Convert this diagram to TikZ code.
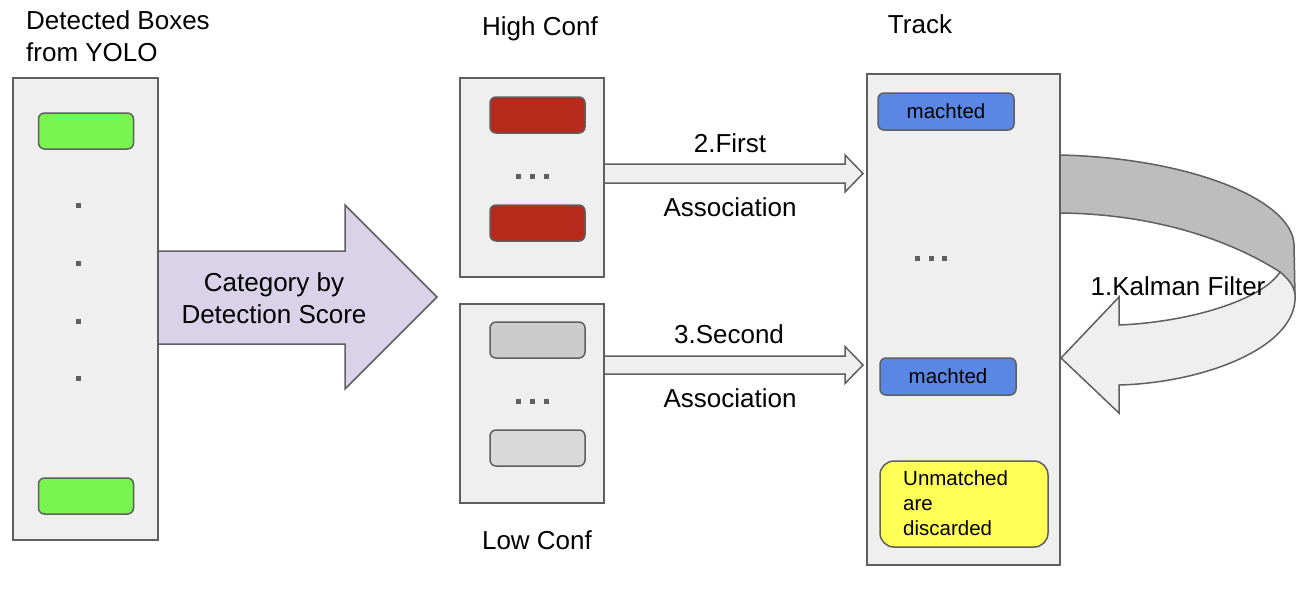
\documentclass[tikz,border=0pt]{standalone}
\usepackage{fontspec}
\setmainfont{Liberation Sans}
\usepackage{xcolor}
\usepackage{tikz}
\usetikzlibrary{positioning}

\definecolor{panelgray}{HTML}{EFEFEF}
\definecolor{linegray}{HTML}{5F5F5F}
\definecolor{boxgreen}{HTML}{78F54E}
\definecolor{boxred}{HTML}{B7291A}
\definecolor{slotgray}{HTML}{CCCCCC}
\definecolor{slotlight}{HTML}{D9D9D9}
\definecolor{boxblue}{HTML}{5A87E4}
\definecolor{boxyellow}{HTML}{FFFF55}
\definecolor{lavender}{HTML}{D9D2E9}
\definecolor{bandgray}{HTML}{BDBDBD}

\begin{document}
\begin{tikzpicture}[
    x=1pt, y=-1pt,
    lbl/.style={font=\fontsize{26}{32}\selectfont, inner sep=0pt},
    small/.style={font=\fontsize{20.5}{25}\selectfont, inner sep=0pt},
    panel/.style={rectangle, draw=linegray, line width=1.5pt, fill=panelgray, inner sep=0pt},
    slot/.style={rectangle, rounded corners=6pt, draw=linegray, line width=1.5pt, minimum width=95pt, minimum height=36pt, inner sep=0pt},
    dot/.style={rectangle, fill=linegray, minimum size=5pt, inner sep=0pt},
    blockarrow/.style={draw=linegray, line width=1.5pt, line join=miter}
]
    \useasboundingbox (0,0) rectangle (1305,595);

    % detections
    \node[panel, minimum width=145pt, minimum height=462pt] (dets) at (85.5,309) {};
    \node[slot, fill=boxgreen] (det1) at (86,131) {};
    \node[slot, fill=boxgreen] (det2) at (86,496) {};
    \foreach \y [count=\i] in {205,263,321,378}
        \node[dot] (vd\i) at (78,\y) {};
    \node[lbl, anchor=base west, align=left] (dettitle) at (26,61) {Detected Boxes\\from YOLO};

    % split by score
    \draw[blockarrow, fill=lavender] (158,251) -- (345,251) -- (345,205) -- (437,297) -- (345,389) -- (345,344) -- (158,344) -- cycle;
    \node[lbl, anchor=base, align=center] (catlbl) at (274,323) {Category by\\Detection Score};

    % high / low confidence
    \node[panel, minimum width=144pt, minimum height=199pt] (high) at (532,177.5) {};
    \node[slot, fill=boxred] (hi1) at (537.5,115) {};
    \node[slot, fill=boxred] (hi2) at (537.5,223) {};
    \foreach \x [count=\i] in {518,532,546}
        \node[dot] (hd\i) at (\x,176) {};
    \node[lbl, anchor=base] (hightitle) at (540,35) {High Conf};

    \node[panel, minimum width=144pt, minimum height=199pt] (low) at (532,403.5) {};
    \node[slot, fill=slotgray] (lo1) at (537.5,340) {};
    \node[slot, fill=slotlight] (lo2) at (537.5,448) {};
    \foreach \x [count=\i] in {518,532,546}
        \node[dot] (ld\i) at (\x,401) {};
    \node[lbl, anchor=base] (lowtitle) at (537,549) {Low Conf};

    % associations
    \draw[blockarrow, fill=panelgray] (604,164) -- (845,164) -- (845,155) -- (863,173.5) -- (845,192) -- (845,183) -- (604,183) -- cycle;
    \node[lbl, anchor=base] (first1) at (730,152) {2.First};
    \node[lbl, anchor=base] (first2) at (730,216) {Association};

    \draw[blockarrow, fill=panelgray] (604,356) -- (845,356) -- (845,346.5) -- (863,365) -- (845,383.5) -- (845,374) -- (604,374) -- cycle;
    \node[lbl, anchor=base] (second1) at (729,343) {3.Second};
    \node[lbl, anchor=base] (second2) at (730,407) {Association};

    % tracks
    \node[panel, minimum width=193pt, minimum height=491pt] (track) at (963.5,319.5) {};
    \node[lbl, anchor=base] (tracktitle) at (920,33) {Track};
    \node[slot, fill=boxblue, minimum width=136pt, minimum height=37pt, small] (m1) at (946,111.5) {machted};
    \node[slot, fill=boxblue, minimum width=136pt, minimum height=37pt, small] (m2) at (948,376.5) {machted};
    \foreach \x [count=\i] in {917,931,944}
        \node[dot] (td\i) at (\x,258) {};
    \node[slot, fill=boxyellow, rounded corners=14pt, minimum width=168pt, minimum height=86pt] (discard) at (964,504) {};
    \node[small, anchor=base west, align=left] (discardlbl) at (903,535) {Unmatched\\are\\discarded};

    % kalman loop
    \draw[blockarrow, fill=bandgray] (1060,155) .. controls (1190,158) and (1293,200) .. (1294,245) -- (1295,297) -- (1280,272) .. controls (1235,243) and (1160,214) .. (1060,213) -- cycle;
    \draw[blockarrow, fill=panelgray] (1280,272) .. controls (1292,282) and (1296,290) .. (1295,300) .. controls (1292,350) and (1200,383) .. (1119,385) -- (1119,413) -- (1061,358) -- (1119,297) -- (1119,325) .. controls (1190,322) and (1262,300) .. (1280,272) -- cycle;
    \node[lbl, anchor=base] (kalman) at (1178,295) {1.Kalman Filter};
\end{tikzpicture}
\end{document}
